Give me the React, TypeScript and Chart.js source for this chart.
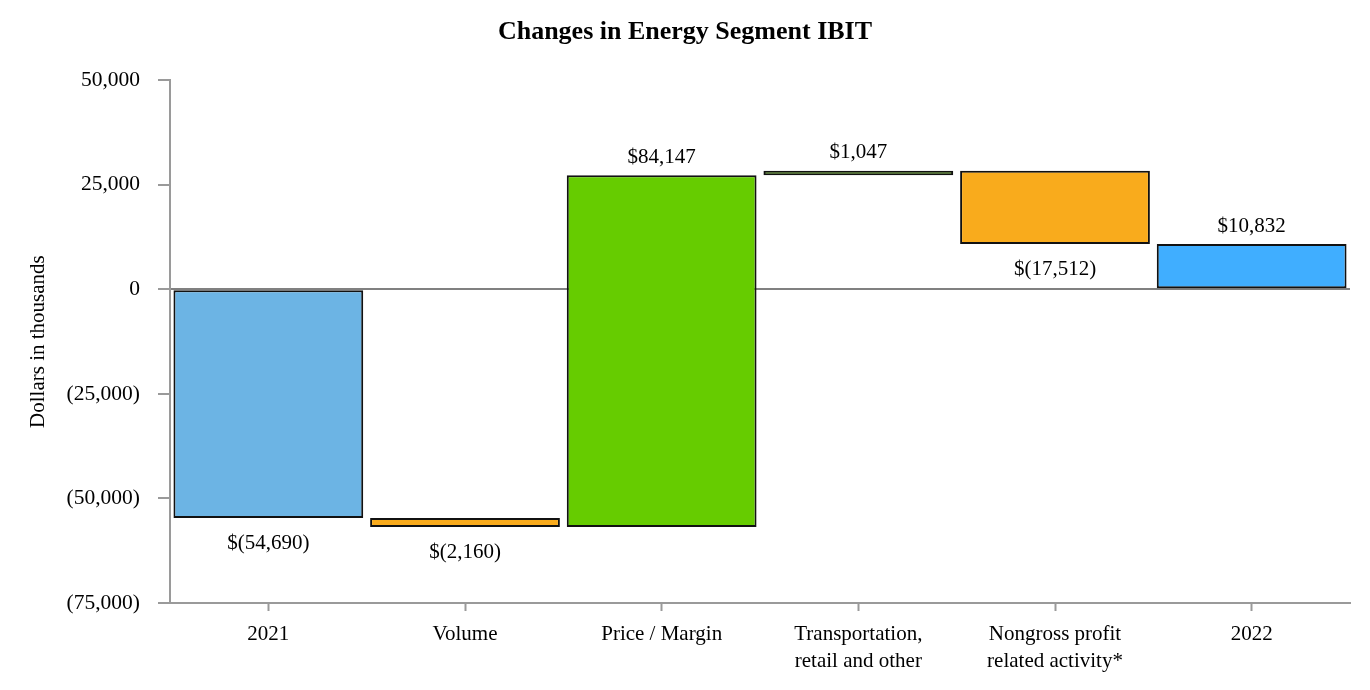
import React, { useEffect, useRef } from "react";
import { Chart, registerables } from "chart.js";

Chart.register(...registerables);

const categories: (string | string[])[] = [
  "2021",
  "Volume",
  "Price / Margin",
  ["Transportation,", "retail and other"],
  ["Nongross profit", "related activity*"],
  "2022",
];
const changes = [-54690, -2160, 84147, 1047, -17512, 10832];
const isTotal = [true, false, false, false, false, true];
const barColors = ["#6CB4E4", "#F9AB1C", "#66CC00", "#66CC00", "#F9AB1C", "#40AEFF"];
const yTicks = [-75000, -50000, -25000, 0, 25000, 50000];

const FONT = "'Liberation Serif', 'Times New Roman', serif";

function fmtAxis(v: number): string {
  const s = Math.abs(v).toLocaleString("en-US");
  return v < 0 ? `(${s})` : s;
}
function fmtLabel(v: number): string {
  const s = Math.abs(v).toLocaleString("en-US");
  return v < 0 ? `$(${s})` : `$${s}`;
}

function buildRanges(): [number, number][] {
  const out: [number, number][] = [];
  let running = 0;
  changes.forEach((c, i) => {
    if (isTotal[i]) {
      out.push([0, c]);
      running = c;
    } else {
      out.push([running, running + c]);
      running += c;
    }
  });
  return out;
}

const labelPlugin = {
  id: "wfLabels",
  afterDatasetsDraw(chart: any) {
    const ctx = chart.ctx;
    const meta = chart.getDatasetMeta(0);
    ctx.save();
    ctx.font = `21px ${FONT}`;
    ctx.fillStyle = "#000";
    ctx.textAlign = "center";
    ctx.textBaseline = "middle";
    meta.data.forEach((el: any, i: number) => {
      const top = Math.min(el.y, el.base);
      const bottom = Math.max(el.y, el.base);
      const v = changes[i];
      if (v >= 0) ctx.fillText(fmtLabel(v), el.x, top - 18);
      else ctx.fillText(fmtLabel(v), el.x, bottom + 25);
    });
    ctx.restore();
  },
};

export default function App() {
  const ref = useRef<HTMLCanvasElement>(null);
  useEffect(() => {
    document.body.style.margin = "0";
    document.body.style.overflow = "hidden";
    const chart = new Chart(ref.current!, {
      type: "bar",
      data: {
        labels: categories,
        datasets: [
          {
            data: buildRanges() as any,
            backgroundColor: barColors,
            borderColor: "#111",
            borderWidth: 2,
            borderSkipped: false,
            barPercentage: 0.965,
            categoryPercentage: 1,
          },
        ],
      },
      options: {
        responsive: false,
        animation: false,
        layout: { padding: { left: 0, right: 0, top: 0, bottom: 0 } },
        plugins: {
          legend: { display: false },
          tooltip: { enabled: false },
          title: {
            display: true,
            text: "Changes in Energy Segment IBIT",
            color: "#000",
            font: { family: FONT, size: 26, weight: "bold", lineHeight: 1.2 },
            padding: { top: 17, bottom: 32 },
          },
        },
        scales: {
          x: {
            offset: true,
            grid: {
              offset: false,
              drawOnChartArea: false,
              tickLength: 8,
              tickColor: "#9a9a9a",
              tickWidth: 2,
            },
            border: { color: "#9a9a9a", width: 2 },
            ticks: {
              color: "#000",
              padding: 10,
              maxRotation: 0,
              autoSkip: false,
              font: { family: FONT, size: 21, lineHeight: 1.3 },
            },
            afterFit: (s: any) => {
              s.height = 87;
            },
          },
          y: {
            min: -75000,
            max: 50000,
            afterBuildTicks: (s: any) => {
              s.ticks = yTicks.map((v) => ({ value: v }));
            },
            grid: {
              drawOnChartArea: true,
              color: (c: any) => (c.tick && c.tick.value === 0 ? "#808080" : "rgba(0,0,0,0)"),
              lineWidth: 2,
              tickLength: 12,
              tickColor: "#9a9a9a",
              tickWidth: 2,
            },
            border: { color: "#9a9a9a", width: 2 },
            ticks: {
              color: "#000",
              padding: 18,
              font: { family: FONT, size: 21.5 },
              callback: (v: any) => fmtAxis(Number(v)),
            },
            title: {
              display: true,
              text: "Dollars in thousands",
              color: "#000",
              font: { family: FONT, size: 21, lineHeight: 1.2 },
              padding: { top: 26, bottom: 0 },
            },
            afterFit: (s: any) => {
              s.width = 170;
            },
          },
          yRight: {
            position: "right",
            display: true,
            grid: { display: false, drawTicks: false },
            border: { display: false },
            ticks: { display: false },
            afterFit: (s: any) => {
              s.width = 20;
            },
          },
        },
      },
      plugins: [labelPlugin],
    });
    return () => chart.destroy();
  }, []);
  return <canvas ref={ref} width={1370} height={690} style={{ width: 1370, height: 690, display: "block" }} />;
}
